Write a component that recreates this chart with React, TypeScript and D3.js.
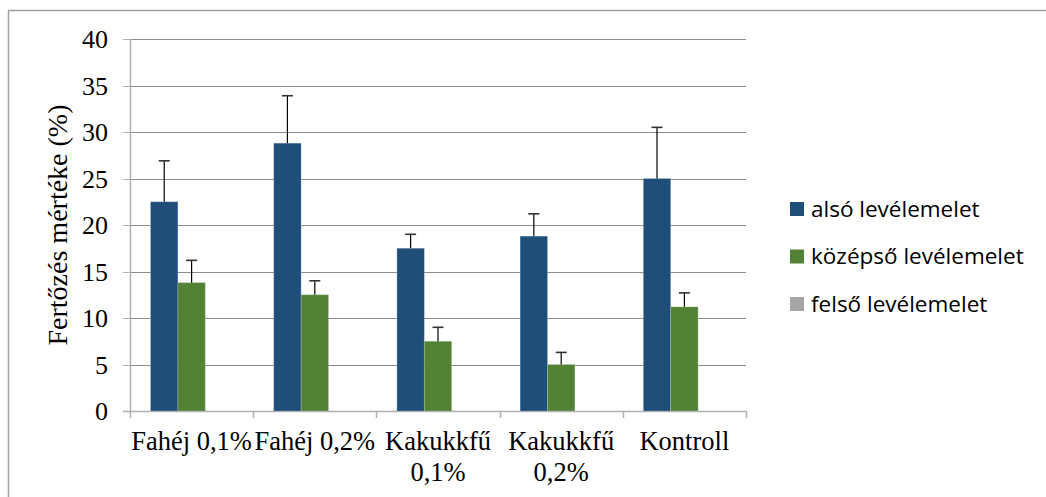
import React from "react";
import * as d3 from "d3";

const categories = ["Fahéj 0,1%", "Fahéj 0,2%", "Kakukkfű 0,1%", "Kakukkfű 0,2%", "Kontroll"];
const categoryLines = [["Fahéj 0,1%"], ["Fahéj 0,2%"], ["Kakukkfű", "0,1%"], ["Kakukkfű", "0,2%"], ["Kontroll"]];
const seriesNames = ["alsó levélemelet", "középső levélemelet", "felső levélemelet"];
const alsoValues = [22.5, 28.8, 17.5, 18.8, 25.0];
const alsoErrors = [4.4, 5.1, 1.5, 2.4, 5.5];
const kozepsoValues = [13.8, 12.5, 7.5, 5.0, 11.2];
const kozepsoErrors = [2.4, 1.5, 1.5, 1.3, 1.5];
const felsoValues = [0, 0, 0, 0, 0];
const felsoErrors = [0, 0, 0, 0, 0];
const yTicks = [0, 5, 10, 15, 20, 25, 30, 35, 40];

const colors = ["#1f4e79", "#548235", "#a5a5a5"];

export default function App() {
  const W = 1046, H = 497;
  const x0 = 130, x1 = 746, yTop = 39, yBot = 411;
  const y = d3.scaleLinear().domain([0, 40]).range([yBot, yTop]);
  const x = d3.scaleBand<string>().domain(categories).range([x0, x1]).padding(0);
  const band = x.bandwidth();
  const bw = band / 4.5;
  const series = [
    { vals: alsoValues, errs: alsoErrors },
    { vals: kozepsoValues, errs: kozepsoErrors },
    { vals: felsoValues, errs: felsoErrors },
  ];
  const serif = "'Liberation Serif', 'Times New Roman', serif";
  const sans = "'Open Sans', 'Noto Sans', sans-serif";
  return (
    <svg width={W} height={H} style={{ position: "absolute", left: 0, top: 0, background: "#fff" }}>
      <rect x={8.5} y={10.5} width={1200} height={700} fill="#fff" stroke="#a0a0a0" strokeWidth={1.5} />
      {yTicks.map((t) => (
        <g key={t}>
          {t > 0 && <line x1={x0} x2={x1} y1={Math.round(y(t)) + 0.5} y2={Math.round(y(t)) + 0.5} stroke="#8c8c8c" strokeWidth={1} />}
          <line x1={x0 - 7} x2={x0} y1={Math.round(y(t)) + 0.5} y2={Math.round(y(t)) + 0.5} stroke="#b0b0b0" strokeWidth={1} />
          <text x={108} y={y(t)} dy="0.35em" textAnchor="end" fontFamily={serif} fontSize={26} fill="#000">{t}</text>
        </g>
      ))}
      <line x1={x0 + 0.5} x2={x0 + 0.5} y1={yTop} y2={yBot} stroke="#b0b0b0" strokeWidth={1.5} />
      <line x1={x0 - 7} x2={x1} y1={yBot + 0.5} y2={yBot + 0.5} stroke="#b0b0b0" strokeWidth={1.5} />
      {d3.range(categories.length + 1).map((i) => {
        const xx = Math.round(x0 + i * band) + 0.5;
        return <line key={i} x1={xx} x2={xx} y1={yBot} y2={yBot + 7} stroke="#b0b0b0" strokeWidth={1.5} />;
      })}
      {categories.map((c, ci) => (
        <g key={c}>
          {series.map((s, si) => {
            const bx = (x(c) as number) + 0.75 * bw + si * bw;
            const v = s.vals[ci];
            if (v <= 0) return null;
            const cx = bx + bw / 2;
            const e = s.errs[ci];
            return (
              <g key={si}>
                <rect x={bx} y={y(v)} width={bw} height={yBot - y(v)} fill={colors[si]} stroke="#c9d6e3" strokeOpacity={0.35} strokeWidth={0.8} />
                <line x1={cx} x2={cx} y1={y(v)} y2={y(v + e)} stroke="#000" strokeWidth={1.2} />
                <line x1={cx - 5.5} x2={cx + 5.5} y1={y(v + e)} y2={y(v + e)} stroke="#333" strokeWidth={1.6} />
              </g>
            );
          })}
          <text textAnchor="middle" fontFamily={serif} fontSize={26.5} fill="#000">
            {categoryLines[ci].map((ln, li) => (
              <tspan key={li} x={(x(c) as number) + band / 2} y={450 + li * 31}>{ln}</tspan>
            ))}
          </text>
        </g>
      ))}
      <text transform={`translate(67,${(yTop + yBot) / 2}) rotate(-90)`} textAnchor="middle" fontFamily={serif} fontSize={28} fill="#000">
        Fertőzés mértéke (%)
      </text>
      {seriesNames.map((n, i) => (
        <g key={n} transform={`translate(790,${209 + i * 47.5})`}>
          <rect x={0} y={-7} width={14} height={14} fill={colors[i]} />
          <text x={21} y={0} dy="0.35em" fontFamily={sans} fontSize={22.5} fill="#000">{n}</text>
        </g>
      ))}
    </svg>
  );
}
